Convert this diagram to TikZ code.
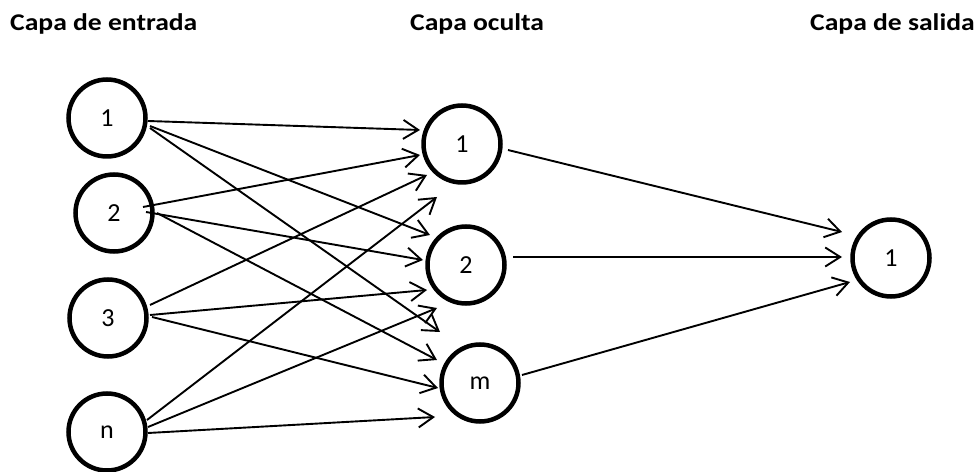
\documentclass[tikz,border=0pt]{standalone}
\usepackage{fontspec}
\setmainfont{Carlito}
\usetikzlibrary{calc,arrows.meta}
\begin{document}
\begin{tikzpicture}[x=1pt,y=1pt,
  neuron/.style={circle,draw,line width=4.5pt,minimum size=77pt,inner sep=0pt,
    font=\fontsize{26}{28}\selectfont},
  title/.style={anchor=base west,inner sep=0pt,font=\fontsize{24}{28}\selectfont\bfseries},
  arr/.style={line width=1.9pt,-{Straight Barb[length=15pt,width=19pt,line width=1.9pt]}}]
\useasboundingbox (0,0) rectangle (979,471);
\fill[white] (0,0) rectangle (979,471);
% titles
\node[title] (t1) at (10,440) {\scalebox{1.15}[1]{Capa de entrada}};
\node[title] (t2) at (410,440) {\scalebox{1.15}[1]{Capa oculta}};
\node[title] (t3) at (810,440) {\scalebox{1.15}[1]{Capa de salida}};
% neurons
\node[neuron] (i1) at (107,353) {1};
\node[neuron] (i2) at (114,258) {2};
\node[neuron] (i3) at (108,153) {3};
\node[neuron] (in) at (107,39) {n};
\node[neuron] (h1) at (462,327) {1};
\node[neuron] (h2) at (466,206) {2};
\node[neuron] (hm) at (480,88) {m};
\node[neuron] (o) at (891,213) {1};
% connectors
\draw[arr] ($(i1)+(41,-3)$) -- ($(h1)+(-42,14)$);
\draw[arr] ($(i1)+(43,-8)$) -- ($(h2)+(-36,30)$);
\draw[arr] ($(i1)+(43,-10)$) -- ($(hm)+(-40,51)$);
\draw[arr] ($(i2)+(29,6)$) -- ($(h1)+(-42,-11)$);
\draw[arr] ($(i2)+(32,1)$) -- ($(h2)+(-43,5)$);
\draw[arr] ($(i2)+(43,0)$) -- ($(hm)+(-43,23)$);
\draw[arr] ($(i3)+(42,13)$) -- ($(h1)+(-35,-31)$);
\draw[arr] ($(i3)+(42,3)$) -- ($(h2)+(-39,-25)$);
\draw[arr] ($(i3)+(44,1)$) -- ($(hm)+(-42,-5)$);
\draw[arr] ($(in)+(40,12)$) -- ($(h1)+(-25,-53)$);
\draw[arr] ($(in)+(41,5)$) -- ($(h2)+(-29,-43)$);
\draw[arr] ($(in)+(41,-1)$) -- ($(hm)+(-45,-34)$);
\draw[arr] ($(h1)+(46,-6)$) -- ($(o)+(-49,26)$);
\draw[arr] ($(h2)+(47,8)$) -- ($(o)+(-49,1)$);
\draw[arr] ($(hm)+(42,8)$) -- ($(o)+(-41,-24)$);
\end{tikzpicture}
\end{document}
